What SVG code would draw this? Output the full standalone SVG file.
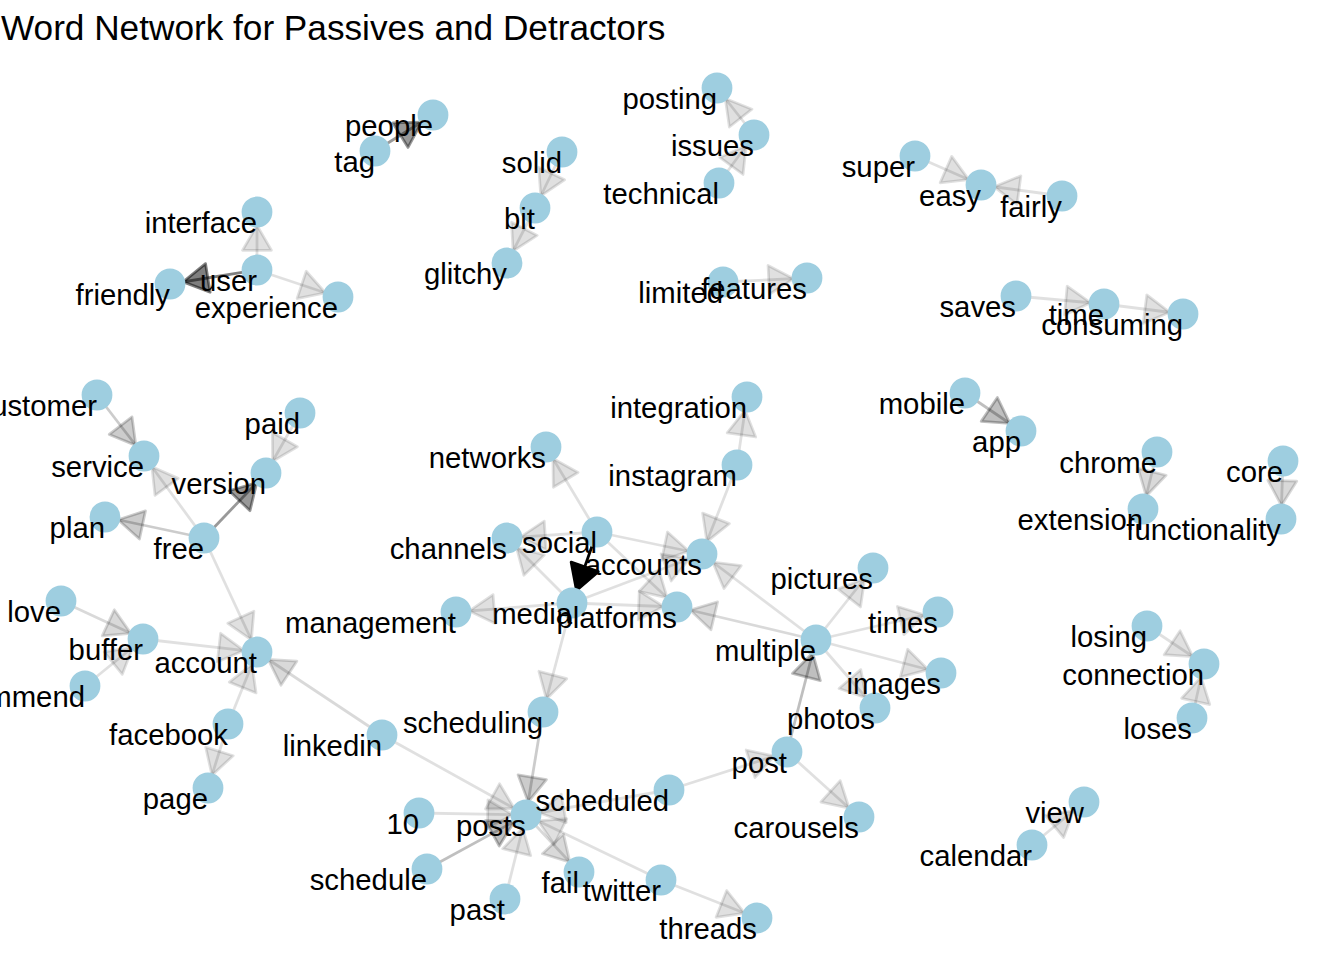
<svg xmlns="http://www.w3.org/2000/svg" width="1344" height="960" viewBox="0 0 1344 960">
<style>
text{font-family:"Liberation Sans",Arial,Helvetica,sans-serif;fill:#000}
.lb{font-size:29.3px;text-anchor:end}
.title{font-size:35.2px}
circle{fill:#9ecee0}
line{stroke:#000;stroke-width:2.8;stroke-linecap:butt}
.a12{stroke-opacity:.12;marker-end:url(#m12)}
.a15{stroke-opacity:.15;marker-end:url(#m15)}
.a20{stroke-opacity:.2;marker-end:url(#m20)}
.a25{stroke-opacity:.25;marker-end:url(#m25)}
.a40{stroke-opacity:.4;marker-end:url(#m40)}
.a50{stroke-opacity:.5;marker-end:url(#m50)}
.a100{stroke-opacity:1;marker-end:url(#m100)}
.ah{stroke:#000;fill:#000;stroke-width:2.8;stroke-linejoin:round}
</style>
<defs>
<marker id="m12" markerUnits="userSpaceOnUse" orient="auto" refX="0" refY="0" markerWidth="1" markerHeight="1" overflow="visible"><path class="ah" d="M-13.4,0 L-38.3,-14.4 L-38.3,14.4 Z" fill-opacity=".12" stroke-opacity=".12"/></marker>
<marker id="m15" markerUnits="userSpaceOnUse" orient="auto" refX="0" refY="0" markerWidth="1" markerHeight="1" overflow="visible"><path class="ah" d="M-13.4,0 L-38.3,-14.4 L-38.3,14.4 Z" fill-opacity=".15" stroke-opacity=".15"/></marker>
<marker id="m20" markerUnits="userSpaceOnUse" orient="auto" refX="0" refY="0" markerWidth="1" markerHeight="1" overflow="visible"><path class="ah" d="M-13.4,0 L-38.3,-14.4 L-38.3,14.4 Z" fill-opacity=".2" stroke-opacity=".2"/></marker>
<marker id="m25" markerUnits="userSpaceOnUse" orient="auto" refX="0" refY="0" markerWidth="1" markerHeight="1" overflow="visible"><path class="ah" d="M-13.4,0 L-38.3,-14.4 L-38.3,14.4 Z" fill-opacity=".25" stroke-opacity=".25"/></marker>
<marker id="m40" markerUnits="userSpaceOnUse" orient="auto" refX="0" refY="0" markerWidth="1" markerHeight="1" overflow="visible"><path class="ah" d="M-13.4,0 L-38.3,-14.4 L-38.3,14.4 Z" fill-opacity=".4" stroke-opacity=".4"/></marker>
<marker id="m50" markerUnits="userSpaceOnUse" orient="auto" refX="0" refY="0" markerWidth="1" markerHeight="1" overflow="visible"><path class="ah" d="M-13.4,0 L-38.3,-14.4 L-38.3,14.4 Z" fill-opacity=".5" stroke-opacity=".5"/></marker>
<marker id="m100" markerUnits="userSpaceOnUse" orient="auto" refX="0" refY="0" markerWidth="1" markerHeight="1" overflow="visible"><path class="ah" d="M-13.4,0 L-38.3,-14.4 L-38.3,14.4 Z" fill-opacity="1" stroke-opacity="1"/></marker>
</defs>
<rect width="1344" height="960" fill="#fff"/>
<text class="title" x="1" y="40">Word Network for Passives and Detractors</text>
<g id="edges">
<line class="a40" x1="375" y1="151" x2="433" y2="115"/>
<line class="a12" x1="562" y1="152" x2="535" y2="208"/>
<line class="a12" x1="535" y1="208" x2="507" y2="263"/>
<line class="a12" x1="754" y1="135" x2="717" y2="88"/>
<line class="a12" x1="719" y1="183" x2="754" y2="135"/>
<line class="a12" x1="915" y1="156" x2="981" y2="185"/>
<line class="a12" x1="1062" y1="196" x2="981" y2="185"/>
<line class="a12" x1="257" y1="270" x2="257" y2="212"/>
<line class="a50" x1="257" y1="270" x2="170" y2="284"/>
<line class="a12" x1="257" y1="270" x2="338" y2="297"/>
<line class="a12" x1="723" y1="282" x2="807" y2="278"/>
<line class="a12" x1="1016" y1="296" x2="1104" y2="304"/>
<line class="a12" x1="1104" y1="304" x2="1183" y2="314"/>
<line class="a20" x1="97" y1="395" x2="144" y2="456"/>
<line class="a12" x1="300" y1="413" x2="266" y2="473"/>
<line class="a40" x1="204" y1="538" x2="266" y2="473"/>
<line class="a12" x1="204" y1="538" x2="144" y2="456"/>
<line class="a20" x1="204" y1="538" x2="105" y2="517"/>
<line class="a12" x1="204" y1="538" x2="257" y2="652"/>
<line class="a15" x1="61" y1="601" x2="143" y2="639"/>
<line class="a12" x1="85" y1="686" x2="143" y2="639"/>
<line class="a12" x1="143" y1="639" x2="257" y2="652"/>
<line class="a12" x1="228" y1="724" x2="257" y2="652"/>
<line class="a12" x1="228" y1="724" x2="208" y2="788"/>
<line class="a15" x1="382" y1="735" x2="257" y2="652"/>
<line class="a12" x1="382" y1="735" x2="526" y2="815"/>
<line class="a100" x1="597" y1="532" x2="572" y2="603"/>
<line class="a12" x1="597" y1="532" x2="546" y2="447"/>
<line class="a12" x1="597" y1="532" x2="507" y2="538"/>
<line class="a12" x1="572" y1="603" x2="507" y2="538"/>
<line class="a12" x1="597" y1="532" x2="702" y2="554"/>
<line class="a12" x1="597" y1="532" x2="677" y2="607"/>
<line class="a12" x1="572" y1="603" x2="702" y2="554"/>
<line class="a12" x1="572" y1="603" x2="677" y2="607"/>
<line class="a12" x1="572" y1="603" x2="456" y2="612"/>
<line class="a12" x1="572" y1="603" x2="543" y2="712"/>
<line class="a12" x1="737" y1="465" x2="702" y2="554"/>
<line class="a12" x1="737" y1="465" x2="747" y2="397"/>
<line class="a12" x1="816" y1="640" x2="702" y2="554"/>
<line class="a15" x1="816" y1="640" x2="677" y2="607"/>
<line class="a12" x1="816" y1="640" x2="873" y2="568"/>
<line class="a12" x1="816" y1="640" x2="938" y2="612"/>
<line class="a12" x1="816" y1="640" x2="941" y2="673"/>
<line class="a12" x1="816" y1="640" x2="875" y2="708"/>
<line class="a25" x1="787" y1="752" x2="816" y2="640"/>
<line class="a12" x1="787" y1="752" x2="859" y2="817"/>
<line class="a12" x1="669" y1="790" x2="787" y2="752"/>
<line class="a20" x1="543" y1="712" x2="526" y2="815"/>
<line class="a12" x1="669" y1="790" x2="526" y2="815"/>
<line class="a12" x1="419" y1="813" x2="526" y2="815"/>
<line class="a25" x1="427" y1="869" x2="526" y2="815"/>
<line class="a12" x1="505" y1="899" x2="526" y2="815"/>
<line class="a15" x1="526" y1="815" x2="579" y2="872"/>
<line class="a12" x1="661" y1="880" x2="526" y2="815"/>
<line class="a12" x1="661" y1="880" x2="757" y2="918"/>
<line class="a25" x1="965" y1="393" x2="1021" y2="431"/>
<line class="a15" x1="1157" y1="452" x2="1143" y2="509"/>
<line class="a15" x1="1283" y1="461" x2="1281" y2="519"/>
<line class="a12" x1="1147" y1="626" x2="1204" y2="664"/>
<line class="a12" x1="1192" y1="718" x2="1204" y2="664"/>
<line class="a12" x1="1032" y1="845" x2="1084" y2="802"/>
</g>
<g id="nodes">
<g id="n-tag"><circle cx="375" cy="151" r="15.4"/><text class="lb" x="375" y="171.5">tag</text></g>
<g id="n-people"><circle cx="433" cy="115" r="15.4"/><text class="lb" x="433" y="135.5">people</text></g>
<g id="n-solid"><circle cx="562" cy="152" r="15.4"/><text class="lb" x="562" y="172.5">solid</text></g>
<g id="n-bit"><circle cx="535" cy="208" r="15.4"/><text class="lb" x="535" y="228.5">bit</text></g>
<g id="n-glitchy"><circle cx="507" cy="263" r="15.4"/><text class="lb" x="507" y="283.5">glitchy</text></g>
<g id="n-posting"><circle cx="717" cy="88" r="15.4"/><text class="lb" x="717" y="108.5">posting</text></g>
<g id="n-issues"><circle cx="754" cy="135" r="15.4"/><text class="lb" x="754" y="155.5">issues</text></g>
<g id="n-technical"><circle cx="719" cy="183" r="15.4"/><text class="lb" x="719" y="203.5">technical</text></g>
<g id="n-super"><circle cx="915" cy="156" r="15.4"/><text class="lb" x="915" y="176.5">super</text></g>
<g id="n-easy"><circle cx="981" cy="185" r="15.4"/><text class="lb" x="981" y="205.5">easy</text></g>
<g id="n-fairly"><circle cx="1062" cy="196" r="15.4"/><text class="lb" x="1062" y="216.5">fairly</text></g>
<g id="n-interface"><circle cx="257" cy="212" r="15.4"/><text class="lb" x="257" y="232.5">interface</text></g>
<g id="n-user"><circle cx="257" cy="270" r="15.4"/><text class="lb" x="257" y="290.5">user</text></g>
<g id="n-friendly"><circle cx="170" cy="284" r="15.4"/><text class="lb" x="170" y="304.5">friendly</text></g>
<g id="n-experience"><circle cx="338" cy="297" r="15.4"/><text class="lb" x="338" y="317.5">experience</text></g>
<g id="n-limited"><circle cx="723" cy="282" r="15.4"/><text class="lb" x="723" y="302.5">limited</text></g>
<g id="n-features"><circle cx="807" cy="278" r="15.4"/><text class="lb" x="807" y="298.5">features</text></g>
<g id="n-saves"><circle cx="1016" cy="296" r="15.4"/><text class="lb" x="1016" y="316.5">saves</text></g>
<g id="n-time"><circle cx="1104" cy="304" r="15.4"/><text class="lb" x="1104" y="324.5">time</text></g>
<g id="n-consuming"><circle cx="1183" cy="314" r="15.4"/><text class="lb" x="1183" y="334.5">consuming</text></g>
<g id="n-customer"><circle cx="97" cy="395" r="15.4"/><text class="lb" x="97" y="415.5">customer</text></g>
<g id="n-service"><circle cx="144" cy="456" r="15.4"/><text class="lb" x="144" y="476.5">service</text></g>
<g id="n-paid"><circle cx="300" cy="413" r="15.4"/><text class="lb" x="300" y="433.5">paid</text></g>
<g id="n-version"><circle cx="266" cy="473" r="15.4"/><text class="lb" x="266" y="493.5">version</text></g>
<g id="n-plan"><circle cx="105" cy="517" r="15.4"/><text class="lb" x="105" y="537.5">plan</text></g>
<g id="n-free"><circle cx="204" cy="538" r="15.4"/><text class="lb" x="204" y="558.5">free</text></g>
<g id="n-love"><circle cx="61" cy="601" r="15.4"/><text class="lb" x="61" y="621.5">love</text></g>
<g id="n-buffer"><circle cx="143" cy="639" r="15.4"/><text class="lb" x="143" y="659.5">buffer</text></g>
<g id="n-recommend"><circle cx="85" cy="686" r="15.4"/><text class="lb" x="85" y="706.5">recommend</text></g>
<g id="n-account"><circle cx="257" cy="652" r="15.4"/><text class="lb" x="257" y="672.5">account</text></g>
<g id="n-facebook"><circle cx="228" cy="724" r="15.4"/><text class="lb" x="228" y="744.5">facebook</text></g>
<g id="n-page"><circle cx="208" cy="788" r="15.4"/><text class="lb" x="208" y="808.5">page</text></g>
<g id="n-linkedin"><circle cx="382" cy="735" r="15.4"/><text class="lb" x="382" y="755.5">linkedin</text></g>
<g id="n-networks"><circle cx="546" cy="447" r="15.4"/><text class="lb" x="546" y="467.5">networks</text></g>
<g id="n-integration"><circle cx="747" cy="397" r="15.4"/><text class="lb" x="747" y="417.5">integration</text></g>
<g id="n-instagram"><circle cx="737" cy="465" r="15.4"/><text class="lb" x="737" y="485.5">instagram</text></g>
<g id="n-channels"><circle cx="507" cy="538" r="15.4"/><text class="lb" x="507" y="558.5">channels</text></g>
<g id="n-social"><circle cx="597" cy="532" r="15.4"/><text class="lb" x="597" y="552.5">social</text></g>
<g id="n-management"><circle cx="456" cy="612" r="15.4"/><text class="lb" x="456" y="632.5">management</text></g>
<g id="n-media"><circle cx="572" cy="603" r="15.4"/><text class="lb" x="572" y="623.5">media</text></g>
<g id="n-accounts"><circle cx="702" cy="554" r="15.4"/><text class="lb" x="702" y="574.5">accounts</text></g>
<g id="n-platforms"><circle cx="677" cy="607" r="15.4"/><text class="lb" x="677" y="627.5">platforms</text></g>
<g id="n-multiple"><circle cx="816" cy="640" r="15.4"/><text class="lb" x="816" y="660.5">multiple</text></g>
<g id="n-pictures"><circle cx="873" cy="568" r="15.4"/><text class="lb" x="873" y="588.5">pictures</text></g>
<g id="n-times"><circle cx="938" cy="612" r="15.4"/><text class="lb" x="938" y="632.5">times</text></g>
<g id="n-photos"><circle cx="875" cy="708" r="15.4"/><text class="lb" x="875" y="728.5">photos</text></g>
<g id="n-images"><circle cx="941" cy="673" r="15.4"/><text class="lb" x="941" y="693.5">images</text></g>
<g id="n-scheduling"><circle cx="543" cy="712" r="15.4"/><text class="lb" x="543" y="732.5">scheduling</text></g>
<g id="n-post"><circle cx="787" cy="752" r="15.4"/><text class="lb" x="787" y="772.5">post</text></g>
<g id="n-carousels"><circle cx="859" cy="817" r="15.4"/><text class="lb" x="859" y="837.5">carousels</text></g>
<g id="n-10"><circle cx="419" cy="813" r="15.4"/><text class="lb" x="419" y="833.5">10</text></g>
<g id="n-posts"><circle cx="526" cy="815" r="15.4"/><text class="lb" x="526" y="835.5">posts</text></g>
<g id="n-scheduled"><circle cx="669" cy="790" r="15.4"/><text class="lb" x="669" y="810.5">scheduled</text></g>
<g id="n-schedule"><circle cx="427" cy="869" r="15.4"/><text class="lb" x="427" y="889.5">schedule</text></g>
<g id="n-past"><circle cx="505" cy="899" r="15.4"/><text class="lb" x="505" y="919.5">past</text></g>
<g id="n-fail"><circle cx="579" cy="872" r="15.4"/><text class="lb" x="579" y="892.5">fail</text></g>
<g id="n-twitter"><circle cx="661" cy="880" r="15.4"/><text class="lb" x="661" y="900.5">twitter</text></g>
<g id="n-threads"><circle cx="757" cy="918" r="15.4"/><text class="lb" x="757" y="938.5">threads</text></g>
<g id="n-mobile"><circle cx="965" cy="393" r="15.4"/><text class="lb" x="965" y="413.5">mobile</text></g>
<g id="n-app"><circle cx="1021" cy="431" r="15.4"/><text class="lb" x="1021" y="451.5">app</text></g>
<g id="n-chrome"><circle cx="1157" cy="452" r="15.4"/><text class="lb" x="1157" y="472.5">chrome</text></g>
<g id="n-extension"><circle cx="1143" cy="509" r="15.4"/><text class="lb" x="1143" y="529.5">extension</text></g>
<g id="n-core"><circle cx="1283" cy="461" r="15.4"/><text class="lb" x="1283" y="481.5">core</text></g>
<g id="n-functionality"><circle cx="1281" cy="519" r="15.4"/><text class="lb" x="1281" y="539.5">functionality</text></g>
<g id="n-losing"><circle cx="1147" cy="626" r="15.4"/><text class="lb" x="1147" y="646.5">losing</text></g>
<g id="n-connection"><circle cx="1204" cy="664" r="15.4"/><text class="lb" x="1204" y="684.5">connection</text></g>
<g id="n-loses"><circle cx="1192" cy="718" r="15.4"/><text class="lb" x="1192" y="738.5">loses</text></g>
<g id="n-view"><circle cx="1084" cy="802" r="15.4"/><text class="lb" x="1084" y="822.5">view</text></g>
<g id="n-calendar"><circle cx="1032" cy="845" r="15.4"/><text class="lb" x="1032" y="865.5">calendar</text></g>
</g>
</svg>
